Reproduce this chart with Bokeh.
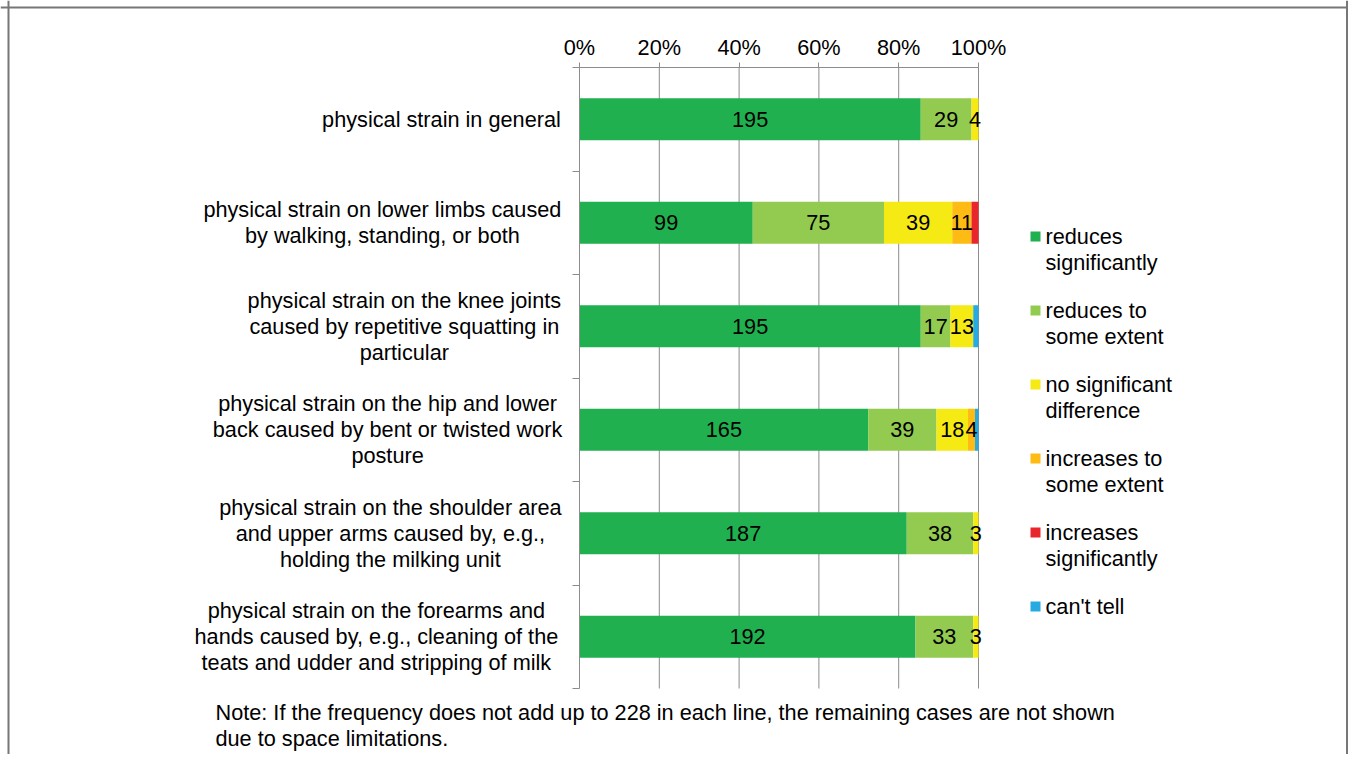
from bokeh.plotting import figure
from bokeh.models import Range1d, LinearAxis, FixedTicker, PrintfTickFormatter, ColumnDataSource, Span
from bokeh.core.properties import value
from bokeh.embed import file_html
from bokeh.resources import INLINE

# ---------------- data ----------------
categories = [
    "physical strain in general",
    "physical strain on lower limbs caused\nby walking, standing, or both",
    "physical strain on the knee joints\ncaused by repetitive squatting in\nparticular",
    "physical strain on the hip and lower\nback caused by bent or twisted work\nposture",
    "physical strain on the shoulder area\nand upper arms caused by, e.g.,\nholding the milking unit",
    "physical strain on the forearms and\nhands caused by, e.g., cleaning of the\nteats and udder and stripping of milk",
]
series_names = [
    "reduces\nsignificantly",
    "reduces to\nsome extent",
    "no significant\ndifference",
    "increases to\nsome extent",
    "increases\nsignificantly",
    "can't tell",
]
reduces_significantly = [195, 99, 195, 165, 187, 192]
reduces_some = [29, 75, 17, 39, 38, 33]
no_difference = [4, 39, 13, 18, 3, 3]
increases_some = [0, 11, 0, 4, 0, 0]
increases_significantly = [0, 4, 0, 0, 0, 0]
cant_tell = [0, 0, 3, 2, 0, 0]
series_labeled = [True, True, True, True, False, False]
tick_values = [0, 20, 40, 60, 80, 100]
note_text = ("Note: If the frequency does not add up to 228 in each line, the remaining cases are not shown\n"
             "due to space limitations.")

# ---------------- style / layout ----------------
colors = ["#20b04f", "#92cb50", "#f5ea14", "#fdbb13", "#e9262b", "#27aae1"]
FONT = "Liberation Sans"
FS = "21.7px"
LH = 1.04
AXIS_COLOR = "#8c8c8c"
W, H = 1348, 754
PX_PER_PCT = 3.99        # pixels per percent
FRAME_X0 = 579           # pixel of 0%
SLOT_PX = 103.5          # pixel height per category slot
FRAME_Y0 = 688           # pixel (from top) of the bottom of the bars area

x_start = -FRAME_X0 / PX_PER_PCT
x_end = (W - FRAME_X0) / PX_PER_PCT
y_start = -(H - FRAME_Y0) / SLOT_PX
y_end = FRAME_Y0 / SLOT_PX

p = figure(width=W, height=H, x_range=Range1d(x_start, x_end), y_range=Range1d(y_start, y_end),
           output_backend="svg", toolbar_location=None, x_axis_type=None, y_axis_type=None,
           min_border=0, min_border_left=0, min_border_right=0, min_border_top=0, min_border_bottom=0)
p.outline_line_color = None
p.background_fill_color = "white"
p.border_fill_color = "white"

n = len(categories)
ycent = [n - 0.5 - i for i in range(n)]
series = [reduces_significantly, reduces_some, no_difference, increases_some,
          increases_significantly, cant_tell]
totals = [sum(s[i] for s in series) for i in range(n)]

# vertical gridlines
p.segment(x0=tick_values[1:], x1=tick_values[1:], y0=[0] * (len(tick_values) - 1),
          y1=[n] * (len(tick_values) - 1), line_color=AXIS_COLOR, line_width=1)

left = [0.0] * n
label_x, label_y, label_t = [], [], []
for k, s in enumerate(series):
    pct = [s[i] / totals[i] * 100 for i in range(n)]
    right = [left[i] + pct[i] for i in range(n)]
    src = ColumnDataSource(dict(y=ycent, left=left, right=right))
    p.hbar(y="y", left="left", right="right", height=0.406, source=src,
           fill_color=colors[k], line_color=None)
    if series_labeled[k]:
        for i in range(n):
            if s[i] > 0:
                label_x.append((left[i] + right[i]) / 2)
                label_y.append(ycent[i])
                label_t.append(str(s[i]))
    left = right

p.text(x=label_x, y=label_y, text=label_t, text_font=value(FONT), text_font_size=FS,
       text_align="center", text_baseline="middle", text_color="black")

# category labels (block right edge near the axis, lines centred)
cat_centers = [-34.6, -49.4, -43.9, -48.1, -47.4, -50.9]
p.text(x=cat_centers, y=ycent, text=categories, text_font=value(FONT), text_font_size=FS,
       text_align="center", text_baseline="middle", text_color="black", text_line_height=LH)

# top axis
xaxis = LinearAxis(fixed_location=n, bounds=(0, 100), ticker=FixedTicker(ticks=tick_values),
                   formatter=PrintfTickFormatter(format="%d%%"))
xaxis.axis_line_color = AXIS_COLOR
xaxis.major_tick_line_color = AXIS_COLOR
xaxis.major_tick_out = 5
xaxis.major_tick_in = 0
xaxis.minor_tick_line_color = None
xaxis.major_label_text_font = FONT
xaxis.major_label_text_font_size = FS
xaxis.major_label_text_color = "black"
xaxis.major_label_standoff = 3
p.add_layout(xaxis, "above")

# left axis (category separators)
yaxis = LinearAxis(fixed_location=0, bounds=(0, n), ticker=FixedTicker(ticks=list(range(n + 1))))
yaxis.axis_line_color = AXIS_COLOR
yaxis.major_tick_line_color = AXIS_COLOR
yaxis.major_tick_out = 7
yaxis.major_tick_in = 0
yaxis.minor_tick_line_color = None
yaxis.major_label_text_color = None
yaxis.major_label_text_font_size = "0px"
p.add_layout(yaxis, "left")

# legend (manual)
LEG_SQ_X = (1035 - FRAME_X0) / PX_PER_PCT
LEG_TX_X = (1045 - FRAME_X0) / PX_PER_PCT
LEG_Y0 = (FRAME_Y0 - 236) / SLOT_PX
LEG_STEP = 74 / SLOT_PX
LINE_H = 25 / SLOT_PX
leg_y = [LEG_Y0 - k * LEG_STEP for k in range(len(series_names))]
p.scatter(x=[LEG_SQ_X] * len(series_names), y=leg_y, marker="square", size=10,
          fill_color=colors, line_color=None)
leg_text_y = [leg_y[k] - LINE_H * (series_names[k].count("\n")) / 2 for k in range(len(series_names))]
p.text(x=[LEG_TX_X] * len(series_names), y=leg_text_y, text=series_names, text_font=value(FONT),
       text_font_size=FS, text_align="left", text_baseline="middle", text_color="black",
       text_line_height=LH)

# note
p.text(x=[(215 - FRAME_X0) / PX_PER_PCT], y=[(FRAME_Y0 - 725) / SLOT_PX], text=[note_text],
       text_font=value(FONT), text_font_size=FS,
       text_align="left", text_baseline="middle", text_color="black", text_line_height=LH)

# outer frame (top, left, right)
p.add_layout(Span(location=(FRAME_Y0 - 7) / SLOT_PX, dimension="width", line_color="#777777", line_width=2))
p.add_layout(Span(location=(8 - FRAME_X0) / PX_PER_PCT, dimension="height", line_color="#777777", line_width=2))
p.add_layout(Span(location=(W - 1.5 - FRAME_X0) / PX_PER_PCT, dimension="height", line_color="#777777", line_width=2))

open("out.html", "w").write(file_html(p, INLINE))
